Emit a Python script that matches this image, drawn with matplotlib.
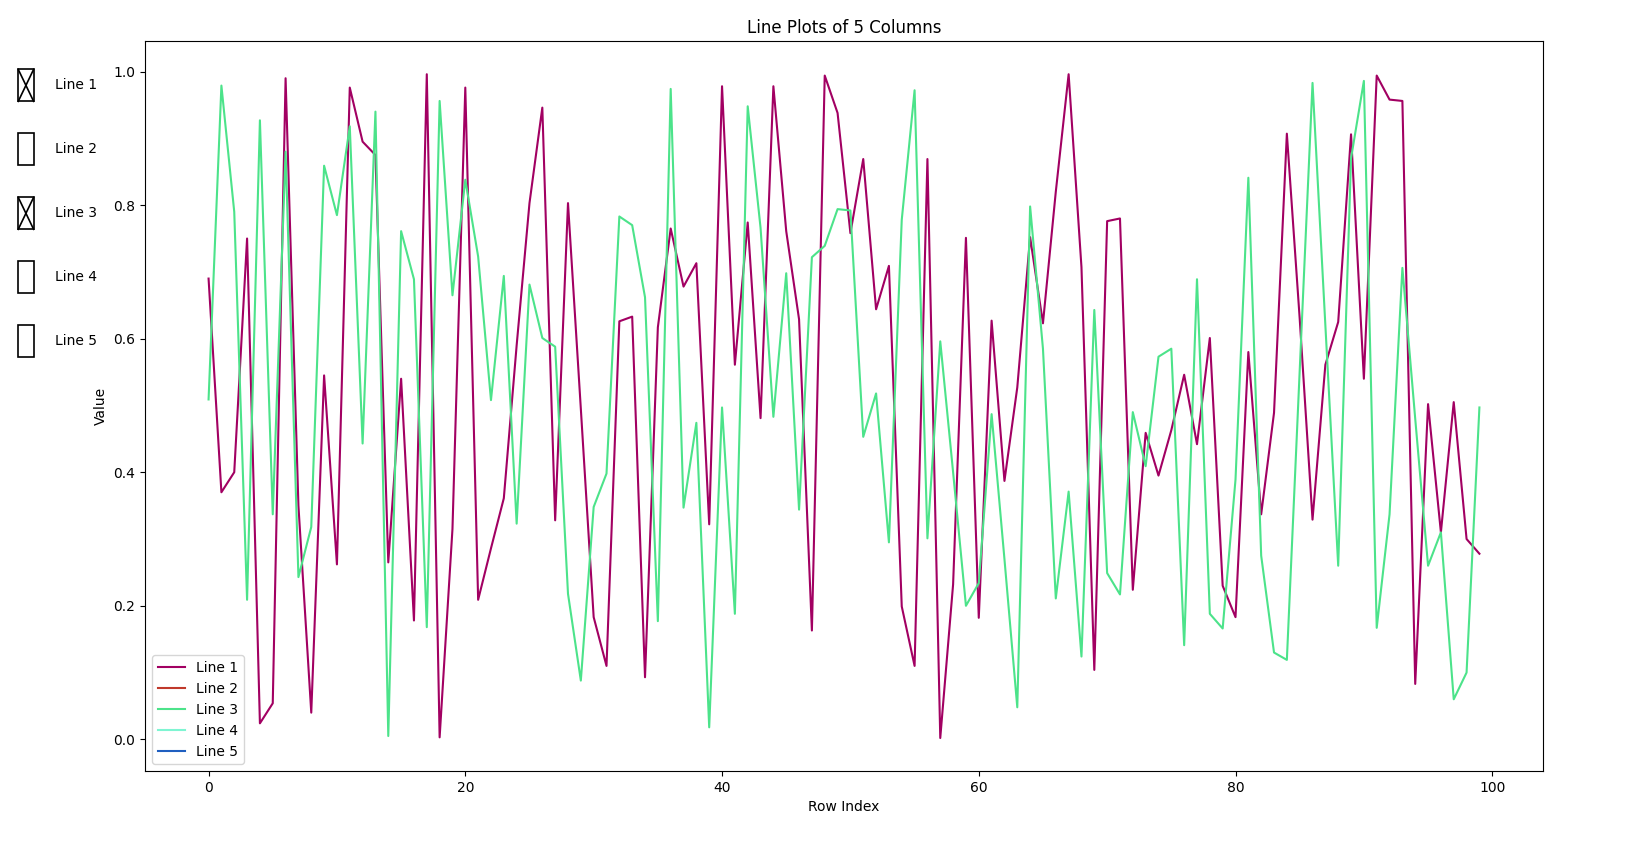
import matplotlib.pyplot as plt
from matplotlib.patches import Rectangle

labels = ["Line 1", "Line 2", "Line 3", "Line 4", "Line 5"]
colors = ["#a20062", "#c0392b", "#4ce38a", "#7ff5d2", "#1f5fc0"]
active = [True, False, True, False, False]

# only Line 1 and Line 3 are switched on in the picture
line1 = [0.69, 0.37, 0.40, 0.75, 0.024, 0.054, 0.99, 0.35, 0.04, 0.545,
         0.262, 0.976, 0.895, 0.875, 0.265, 0.54, 0.178, 0.996, 0.003, 0.315,
         0.976, 0.209, 0.286, 0.361, 0.59, 0.803, 0.946, 0.328, 0.803, 0.495,
         0.183, 0.11, 0.626, 0.633, 0.093, 0.617, 0.765, 0.678, 0.713, 0.322,
         0.978, 0.561, 0.774, 0.481, 0.978, 0.761, 0.629, 0.163, 0.994, 0.938,
         0.758, 0.869, 0.644, 0.709, 0.199, 0.11, 0.869, 0.002, 0.232, 0.751,
         0.182, 0.627, 0.387, 0.527, 0.752, 0.623, 0.82, 0.996, 0.707, 0.104,
         0.776, 0.78, 0.224, 0.459, 0.395, 0.463, 0.546, 0.442, 0.601, 0.23,
         0.183, 0.58, 0.337, 0.489, 0.907, 0.63, 0.329, 0.561, 0.625, 0.906,
         0.54, 0.994, 0.958, 0.956, 0.083, 0.502, 0.31, 0.505, 0.30, 0.278]
line3 = [0.509, 0.979, 0.79, 0.209, 0.927, 0.337, 0.88, 0.243, 0.318, 0.859,
         0.785, 0.918, 0.443, 0.94, 0.005, 0.761, 0.689, 0.168, 0.956, 0.665,
         0.838, 0.723, 0.508, 0.694, 0.323, 0.681, 0.601, 0.588, 0.218, 0.088,
         0.348, 0.398, 0.783, 0.77, 0.662, 0.177, 0.974, 0.347, 0.474, 0.018,
         0.497, 0.188, 0.948, 0.766, 0.483, 0.698, 0.344, 0.722, 0.739, 0.794,
         0.792, 0.453, 0.518, 0.295, 0.778, 0.972, 0.301, 0.596, 0.40, 0.20,
         0.234, 0.487, 0.27, 0.048, 0.798, 0.585, 0.211, 0.371, 0.124, 0.643,
         0.249, 0.217, 0.49, 0.409, 0.573, 0.585, 0.141, 0.689, 0.188, 0.166,
         0.389, 0.841, 0.275, 0.13, 0.119, 0.552, 0.983, 0.62, 0.26, 0.87,
         0.986, 0.167, 0.337, 0.706, 0.48, 0.26, 0.31, 0.06, 0.10, 0.497]
series = {"Line 1": line1, "Line 3": line3}

fig = plt.figure(figsize=(16.35, 8.55), dpi=100)
ax = fig.add_axes([0.0887, 0.098, 0.855, 0.854])

for lab, col in zip(labels, colors):
    if lab in series:
        ax.plot(range(len(series[lab])), series[lab], color=col, lw=1.5, label=lab)
    else:
        ax.plot([], [], color=col, lw=1.5, label=lab)

ax.set_title("Line Plots of 5 Columns")
ax.set_xlabel("Row Index")
ax.set_ylabel("Value")
ax.legend(loc="lower left")

# check boxes drawn the way the old CheckButtons widget did
cax = fig.add_axes([0.0055, 0.526, 0.113, 0.449])
cax.set_xlim(0, 1)
cax.set_ylim(0, 1)
cax.axis("off")
dy = 1.0 / (len(labels) + 1)
for i, (lab, on) in enumerate(zip(labels, active)):
    y = 1 - (i + 1) * dy
    w = h = dy / 2
    x = 0.05
    cax.add_patch(Rectangle((x, y - h / 2), w, h, fill=False, ec="black", lw=1.2))
    if on:
        cax.plot([x, x + w], [y - h / 2, y + h / 2], color="black", lw=1.2)
        cax.plot([x, x + w], [y + h / 2, y - h / 2], color="black", lw=1.2)
    cax.text(0.25, y, lab, va="center", ha="left", fontsize=10)

fig.savefig("out.png", dpi=100)
